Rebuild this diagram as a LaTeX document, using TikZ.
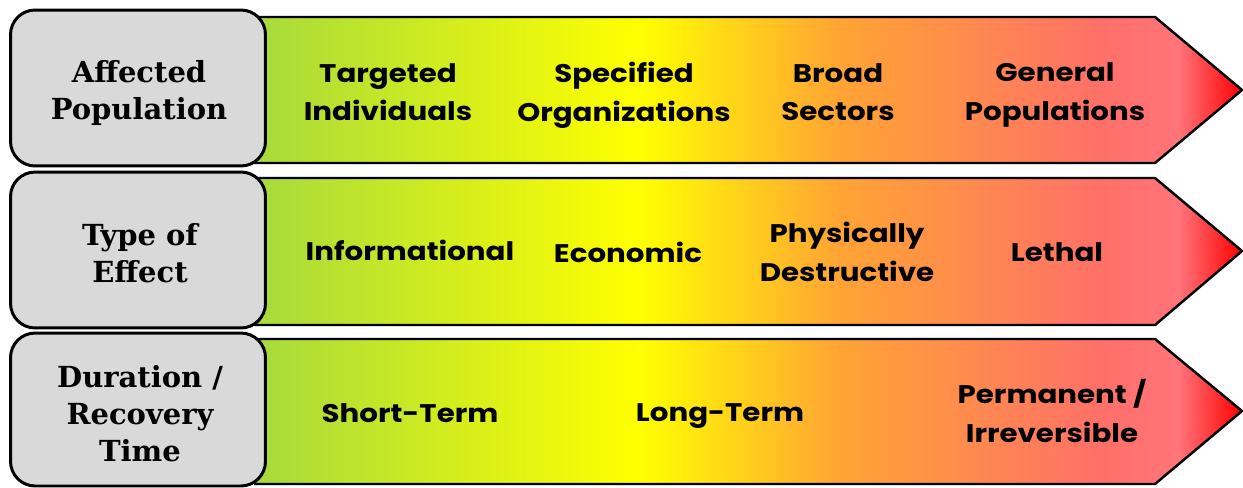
\documentclass[tikz,border=0pt]{standalone}
\usepackage{fontspec}
\setmainfont{DejaVu Serif}
\newfontfamily\stagefont[FakeStretch=1.15]{Poppins}
\usetikzlibrary{positioning}

\definecolor{hgreen}{RGB}{166,218,60}
\definecolor{hyellow}{RGB}{255,255,0}
\definecolor{horange}{RGB}{255,164,52}
\definecolor{hsalmon}{RGB}{255,112,104}
\definecolor{hpink}{RGB}{255,116,122}
\definecolor{hred}{RGB}{255,0,0}
\definecolor{boxgray}{RGB}{217,217,217}

% green -> yellow -> orange -> red along the row
\pgfdeclarehorizontalshading{heat}{100bp}{color(0bp)=(hgreen); color(25bp)=(hgreen);
  color(44.5bp)=(hyellow); color(54.6bp)=(horange); color(67.8bp)=(hsalmon);
  color(71.8bp)=(hpink); color(75bp)=(hred); color(100bp)=(hred)}

\tikzset{
  rowarrow/.style={draw=black, line width=1.4pt, line join=miter, shading=heat},
  rowbox/.style={draw=black, line width=1.7pt, fill=boxgray, rounded corners=14pt,
    minimum width=5.1cm},
  rowlabel/.style={align=center, font=\bfseries\fontsize{16.5}{21}\selectfont},
  stage/.style={align=center, font=\stagefont\bfseries\fontsize{14.5}{22}\selectfont}
}

\begin{document}
\begin{tikzpicture}[x=0.02cm, y=-0.02cm]
  \useasboundingbox (0,0) rectangle (1243,487);

  % shaded arrow bodies
  \path[rowarrow] (255,17) -- (1155,17) -- (1242,90) -- (1155,163) -- (255,163) -- cycle;
  \path[rowarrow] (255,178) -- (1155,178) -- (1242,251) -- (1155,325) -- (255,325) -- cycle;
  \path[rowarrow] (255,339) -- (1155,339) -- (1242,411) -- (1155,484) -- (255,484) -- cycle;

  % gray category boxes and their titles
  \node (pop) [rowbox, minimum height=3.12cm] at (138,88) {};
  \node (eff) [rowbox, minimum height=3.12cm] at (138,250) {};
  \node (dur) [rowbox, minimum height=3.06cm] at (138,409.5) {};
  \node (popTitle) [rowlabel] at (139,93) {Affected\\Population};
  \node (effTitle) [rowlabel] at (140,253) {Type of\\Effect};
  \node (durTitle) [rowlabel] at (140,414) {Duration /\\Recovery\\Time};

  % row 1
  \node (indiv) [stage] at (388,92) {Targeted\\Individuals};
  \node (orgs) [stage] at (624,95) {Specified\\Organizations};
  \node (sect) [stage] at (838,92) {Broad\\Sectors};
  \node (genpop) [stage] at (1055,95) {General\\Populations};

  % row 2
  \node (info) [stage] at (410,250) {Informational};
  \node (econ) [stage] at (628,252) {Economic};
  \node (phys) [stage] at (847,252) {Physically\\Destructive};
  \node (leth) [stage] at (1057,252) {Lethal};

  % row 3
  \node (short) [stage] at (410,413) {Short-Term};
  \node (long) [stage] at (720,416) {Long-Term};
  \node (perm) [stage] at (1052,411) {Permanent /\\Irreversible};
\end{tikzpicture}
\end{document}
